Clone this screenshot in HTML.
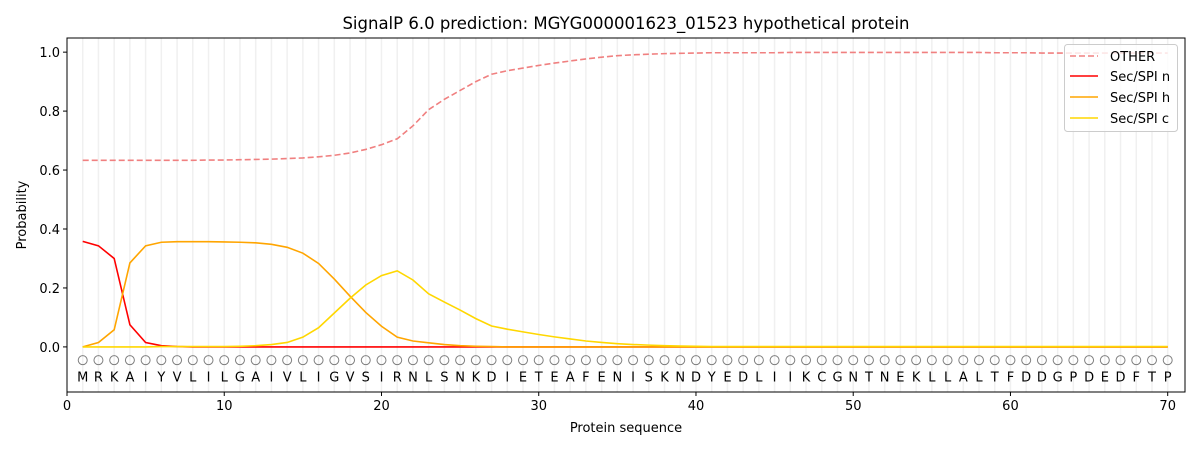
<!DOCTYPE html>
<html><head><meta charset="utf-8"><style>
body{margin:0;background:#fff;}
svg text{font-family:"DejaVu Sans","Liberation Sans",sans-serif;}
</style></head><body>
<svg id="chart" width="1200" height="450" xmlns="http://www.w3.org/2000/svg"></svg>
<script>
const sequence = "MRKAIYVLILGAIVLIGVSIRNLSNKDIETEAFENISKNDYEDLIIKCGNTNEKLLALTFDDGPDEDFTP".split("");
const otherProb = [0.633,0.633,0.633,0.633,0.633,0.633,0.633,0.633,0.634,0.634,0.635,0.636,0.637,0.639,0.641,0.645,0.650,0.658,0.670,0.686,0.706,0.75,0.805,0.84,0.87,0.90,0.925,0.937,0.946,0.955,0.963,0.970,0.977,0.983,0.988,0.991,0.993,0.995,0.996,0.997,0.998,0.998,0.998,0.998,0.998,0.999,0.999,0.999,0.999,0.999,0.999,0.999,0.999,0.999,0.999,0.999,0.999,0.999,0.998,0.998,0.998,0.997,0.997,0.997,0.997,0.997,0.997,0.997,0.997,0.997];
const nProb = [0.358,0.343,0.30,0.075,0.015,0.004,0.001,0,0,0,0,0,0,0,0,0,0,0,0,0,0,0,0,0,0,0,0,0,0,0,0,0,0,0,0,0,0,0,0,0,0,0,0,0,0,0,0,0,0,0,0,0,0,0,0,0,0,0,0,0,0,0,0,0,0,0,0,0,0,0];
const hProb = [0,0.015,0.058,0.285,0.343,0.355,0.357,0.357,0.357,0.356,0.355,0.353,0.348,0.338,0.318,0.283,0.23,0.172,0.117,0.07,0.033,0.02,0.014,0.008,0.004,0.002,0.001,0,0,0,0,0,0,0,0,0,0,0,0,0,0,0,0,0,0,0,0,0,0,0,0,0,0,0,0,0,0,0,0,0,0,0,0,0,0,0,0,0,0,0];
const cProb = [0,0,0,0,0,0.001,0.001,0.001,0.001,0.001,0.002,0.004,0.008,0.015,0.033,0.065,0.115,0.165,0.21,0.242,0.258,0.227,0.18,0.152,0.125,0.096,0.071,0.06,0.051,0.042,0.034,0.027,0.02,0.015,0.011,0.008,0.006,0.004,0.003,0.002,0.001,0.001,0.001,0.001,0.001,0.001,0.001,0.001,0.001,0.001,0.001,0.001,0.001,0.001,0.001,0.001,0.001,0.001,0.001,0.001,0.001,0.001,0.001,0.001,0.001,0.001,0.001,0.001,0.001,0.001];
const xTicks = [0,10,20,30,40,50,60,70];
const yTicks = [0,0.2,0.4,0.6,0.8,1.0];

const NS="http://www.w3.org/2000/svg";
const svg=document.getElementById('chart');
const L=67,R=1185,T=38,B=392;
const xMin=0,xMax=71.1,yMin=-0.153,yMax=1.048;
const sx=v=>L+(v-xMin)/(xMax-xMin)*(R-L);
const sy=v=>B-(v-yMin)/(yMax-yMin)*(B-T);
function el(tag,attrs,parent){const e=document.createElementNS(NS,tag);for(const k in attrs)e.setAttribute(k,attrs[k]);(parent||svg).appendChild(e);return e;}

const grid=el('g',{});


sequence.forEach((aa,i)=>{
  const x=sx(i+1);
  el('line',{x1:x,x2:x,y1:T,y2:B,stroke:'#f0f0f0','stroke-width':1.5},grid);
  const c=el('circle',{cx:x,cy:sy(-0.045),r:4.5,fill:'none',stroke:'#808080','stroke-width':1},grid);
  
  
  const t=el('text',{x:x,y:sy(-0.1)+5,'font-size':13,'text-anchor':'middle',fill:'#000'},grid);
  t.textContent=aa;
  
  
});

function series(vals,color,dash,name){
  const d=vals.map((v,i)=>(i?'L':'M')+sx(i+1).toFixed(2)+','+sy(v).toFixed(2)).join('');
  const p=el('path',{d:d,fill:'none',stroke:color,'stroke-width':1.6});
  if(dash)p.setAttribute('stroke-dasharray',dash);
  
  
}
series(otherProb,'#f08080','6,3','other-line');
series(nProb,'#ff0000',null,'sec-spi-n-line');
series(hProb,'#ffa500',null,'sec-spi-h-line');
series(cProb,'#ffd700',null,'sec-spi-c-line');

const frame=el('rect',{x:L,y:T,width:R-L,height:B-T,fill:'none',stroke:'#000','stroke-width':1});



xTicks.forEach(v=>{
  const x=sx(v);
  el('line',{x1:x,x2:x,y1:B,y2:B+4,stroke:'#000'});
  const t=el('text',{x:x,y:B+18,'font-size':13,'text-anchor':'middle'});
  t.textContent=v;
  
  
});
yTicks.forEach(v=>{
  const y=sy(v);
  el('line',{x1:L-4,x2:L,y1:y,y2:y,stroke:'#000'});
  const t=el('text',{x:L-7,y:y+5,'font-size':13,'text-anchor':'end'});
  t.textContent=v.toFixed(1);
  
  
});
</script>
<svg style="position:absolute;left:0;top:0" width="1200" height="450" xmlns="http://www.w3.org/2000/svg">
<text x="626" y="29" font-size="16.5" text-anchor="middle">SignalP 6.0 prediction: MGYG000001623_01523 hypothetical protein</text>
<text x="626" y="432" font-size="13" text-anchor="middle">Protein sequence</text>
<text transform="translate(26,215) rotate(-90)" font-size="13" text-anchor="middle">Probability</text>
<g>
<rect x="1064.5" y="44.5" width="113" height="87" rx="3" fill="#fff" fill-opacity="0.8" stroke="#ccc"/>
<line x1="1070" x2="1098" y1="56" y2="56" stroke="#f08080" stroke-width="1.6" stroke-dasharray="6,3"/>
<text x="1110" y="61" font-size="13">OTHER</text>
<line x1="1070" x2="1098" y1="76" y2="76" stroke="#ff0000" stroke-width="1.6"/>
<text x="1110" y="81" font-size="13">Sec/SPI n</text>
<line x1="1070" x2="1098" y1="97" y2="97" stroke="#ffa500" stroke-width="1.6"/>
<text x="1110" y="102" font-size="13">Sec/SPI h</text>
<line x1="1070" x2="1098" y1="118" y2="118" stroke="#ffd700" stroke-width="1.6"/>
<text x="1110" y="123" font-size="13">Sec/SPI c</text>
</g>
</svg>
</body></html>
